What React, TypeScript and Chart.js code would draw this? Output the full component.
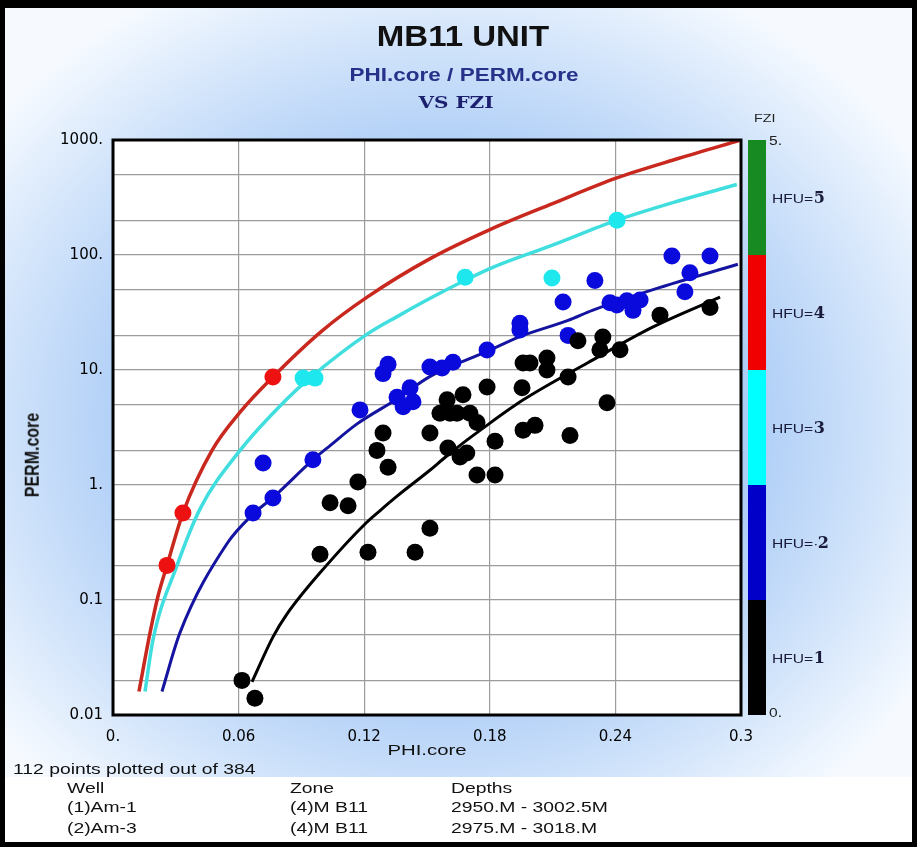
import React, { useEffect, useRef } from "react";
import { Chart, registerables } from "chart.js";

Chart.register(...registerables);

// ---- axis ticks ----
const xTickValues = [0, 0.06, 0.12, 0.18, 0.24, 0.3];
const xTickLabels = ["0.", "0.06", "0.12", "0.18", "0.24", "0.3"];
const yGridValues = [0.01, 0.02, 0.05, 0.1, 0.2, 0.5, 1, 2, 5, 10, 20, 50, 100, 200, 500, 1000];
const yLabelValues = [0.01, 0.1, 1, 10, 100, 1000];
const yLabelTexts = ["0.01", "0.1", "1.", "10.", "100.", "1000."];

// ---- FZI / HFU legend (bottom to top) ----
const hfuPrefixes = ["HFU= ", "HFU=\u00b7", "HFU= ", "HFU=", "HFU= "];
const hfuDigits = ["1", "2", "3", "4", "5"];
const hfuColors = ["#000000", "#0000c8", "#00ffff", "#f00000", "#178a22"];

// ---- HFU boundary curves (PHI.core, PERM.core) ----
const redCurvePhi = [0.0124, 0.0177, 0.0216, 0.0258, 0.0334, 0.0473, 0.0607, 0.0764, 0.1, 0.1214, 0.1515, 0.1806, 0.21, 0.241, 0.27, 0.3];
const redCurvePerm = [0.016, 0.052, 0.11, 0.2, 0.57, 2.0, 4.3, 8.7, 22, 43, 93, 168, 280, 470, 690, 1000];

const cyanCurvePhi = [0.0153, 0.0191, 0.0306, 0.0416, 0.0607, 0.0831, 0.094, 0.1214, 0.137, 0.1515, 0.168, 0.1806, 0.21, 0.2408, 0.27, 0.298];
const cyanCurvePerm = [0.016, 0.045, 0.2, 0.62, 2.0, 5.6, 8.5, 20.5, 30, 42, 60, 77, 122, 201, 295, 410];

const blueCurvePhi = [0.0234, 0.032, 0.0545, 0.067, 0.0765, 0.0956, 0.1037, 0.1166, 0.1357, 0.1515, 0.1787, 0.1944, 0.2174, 0.229, 0.261, 0.2985];
const blueCurvePerm = [0.016, 0.052, 0.31, 0.56, 0.78, 1.66, 2.2, 3.4, 5.6, 8.8, 14.5, 19.5, 27, 33, 52, 83];

const blackCurvePhi = [0.0664, 0.0765, 0.083, 0.102, 0.121, 0.1276, 0.1357, 0.1515, 0.158, 0.167, 0.1755, 0.196, 0.2266, 0.258, 0.29];
const blackCurvePerm = [0.0194, 0.048, 0.075, 0.2, 0.47, 0.6, 0.8, 1.35, 1.7, 2.3, 3.0, 5.5, 11.5, 23.7, 43];

// ---- core samples ----
const redPointsPhi = [0.0258, 0.0334, 0.0764];
const redPointsPerm = [0.2, 0.57, 8.7];

const cyanPointsPhi = [0.0908, 0.0965, 0.1682, 0.2097, 0.2408];
const cyanPointsPerm = [8.5, 8.5, 64, 63, 201];

const bluePointsPhi = [0.0669, 0.0764, 0.0717, 0.0955, 0.118, 0.129, 0.1314, 0.1386, 0.1357, 0.1419, 0.1433, 0.1514, 0.1572, 0.1624, 0.1787, 0.1944, 0.1944, 0.215, 0.2174, 0.2302, 0.2374, 0.2407, 0.2455, 0.2484, 0.2518, 0.267, 0.2732, 0.2756, 0.2852];
const bluePointsPerm = [0.57, 0.77, 1.55, 1.66, 4.5, 9.3, 11.2, 4.8, 5.8, 7.0, 5.3, 10.6, 10.4, 11.7, 14.9, 25.5, 22.3, 39, 20, 60, 38.5, 36.7, 40, 33, 40.6, 98, 48, 70, 98];

const blackPointsPhi = [0.0616, 0.0678, 0.0989, 0.1218, 0.1443, 0.1037, 0.1123, 0.117, 0.1261, 0.1314, 0.129, 0.1514, 0.1514, 0.236, 0.1739, 0.1825, 0.1825, 0.1959, 0.2016, 0.2183, 0.161, 0.1705, 0.1739, 0.16, 0.169, 0.1787, 0.1596, 0.1672, 0.1562, 0.1643, 0.1658, 0.1959, 0.1954, 0.2221, 0.234, 0.2326, 0.2422, 0.2613, 0.2852, 0.1992, 0.2073, 0.2073, 0.2174];
const blackPointsPerm = [0.02, 0.014, 0.25, 0.26, 0.26, 0.7, 0.66, 1.06, 2.0, 1.43, 2.83, 0.42, 2.83, 5.2, 1.22, 1.22, 2.4, 3.0, 3.3, 2.7, 4.2, 4.2, 3.5, 2.1, 1.9, 7.1, 5.5, 6.1, 4.2, 4.2, 1.75, 11.5, 7.0, 18, 19.4, 15, 15, 30, 35, 11.5, 12.7, 10, 8.7];

// ---- footer table ----
const wellNames = ["(1)Am-1", "(2)Am-3"];
const zoneNames = ["(4)M B11", "(4)M B11"];
const depthRanges = ["2950.M - 3002.5M", "2975.M - 3018.M"];

const toPts = (xs: number[], ys: number[]) => xs.map((x, i) => ({ x, y: ys[i] }));

const lineDs = (xs: number[], ys: number[], color: string, width: number, order: number) => ({
  data: toPts(xs, ys),
  showLine: true,
  borderColor: color,
  backgroundColor: color,
  borderWidth: width,
  pointRadius: 0,
  pointHoverRadius: 0,
  fill: false,
  cubicInterpolationMode: "monotone" as const,
  order,
});

const pointDs = (xs: number[], ys: number[], color: string, order: number) => ({
  data: toPts(xs, ys),
  showLine: false,
  borderColor: color,
  backgroundColor: color,
  borderWidth: 0,
  pointRadius: 8.5,
  pointHoverRadius: 8.5,
  order,
});

const sans = "'Liberation Sans', Arial, sans-serif";
const serifBold = "'DejaVu Serif', 'Liberation Serif', serif";

export default function App() {
  const ref = useRef<HTMLCanvasElement>(null);

  useEffect(() => {
    const canvas = ref.current!;
    const framePlugin = {
      id: "frameAndBar",
      beforeDraw(chart: any) {
        const { ctx, chartArea: a } = chart;
        ctx.save();
        ctx.fillStyle = "#ffffff";
        ctx.fillRect(a.left, a.top, a.right - a.left, a.bottom - a.top);
        ctx.restore();
      },
      afterDraw(chart: any) {
        const { ctx, chartArea: a } = chart;
        ctx.save();
        const segH = (a.bottom - a.top) / hfuColors.length;
        hfuColors.forEach((c, i) => {
          ctx.fillStyle = c;
          ctx.fillRect(a.right + 7, a.bottom - (i + 1) * segH, 18, segH);
        });
        ctx.strokeStyle = "#000";
        ctx.lineWidth = 3;
        ctx.strokeRect(a.left, a.top, a.right - a.left, a.bottom - a.top);
        ctx.restore();
      },
    };

    const chart = new Chart(canvas, {
      type: "scatter",
      data: {
        datasets: [
          lineDs(redCurvePhi, redCurvePerm, "#c8281e", 3.5, 10),
          lineDs(cyanCurvePhi, cyanCurvePerm, "#40dede", 3.5, 9),
          lineDs(blueCurvePhi, blueCurvePerm, "#1414a0", 3, 8),
          lineDs(blackCurvePhi, blackCurvePerm, "#000000", 3, 7),
          pointDs(redPointsPhi, redPointsPerm, "#ee1111", 4),
          pointDs(cyanPointsPhi, cyanPointsPerm, "#1ee8ee", 3),
          pointDs(bluePointsPhi, bluePointsPerm, "#0a0adc", 2),
          pointDs(blackPointsPhi, blackPointsPerm, "#000000", 1),
        ] as any,
      },
      options: {
        responsive: false,
        animation: false,
        devicePixelRatio: 1,
        layout: { padding: { left: 0, right: 176, top: 140, bottom: 92 } },
        plugins: { legend: { display: false }, tooltip: { enabled: false }, title: { display: false } },
        scales: {
          x: {
            type: "linear",
            min: 0,
            max: 0.3,
            afterBuildTicks: (s: any) => {
              s.ticks = xTickValues.map((value) => ({ value }));
            },
            afterFit: (s: any) => {
              s.height = 40;
            },
            ticks: {
              autoSkip: false,
              maxRotation: 0,
              padding: 13,
              color: "#000",
              font: { family: "'DejaVu Sans', sans-serif", size: 15 },
              callback: (_v: any, i: number) => xTickLabels[i],
            },
            grid: { color: "#9c9c9c", lineWidth: 1.2, drawTicks: false },
            border: { display: false },
          },
          y: {
            type: "logarithmic",
            min: 0.01,
            max: 1000,
            afterBuildTicks: (s: any) => {
              s.ticks = yGridValues.map((value) => ({ value }));
            },
            afterFit: (s: any) => {
              s.width = 113;
            },
            ticks: {
              autoSkip: false,
              padding: 10,
              color: "#000",
              font: { family: "'DejaVu Sans', sans-serif", size: 15 },
              callback: (v: any) => {
                const idx = yLabelValues.findIndex((t) => Math.abs(t - Number(v)) < t * 1e-6);
                return idx >= 0 ? yLabelTexts[idx] : "";
              },
            },
            grid: { color: "#9c9c9c", lineWidth: 1.2, drawTicks: false },
            border: { display: false },
          },
        },
      } as any,
      plugins: [framePlugin],
    });
    return () => chart.destroy();
  }, []);

  const bg =
    "radial-gradient(ellipse 62% 58% at 48% 50%, #78aaef 0%, #98c0f4 40%, #cde1fa 75%, #f6faff 100%)";

  const stretch = (sx: number, origin = "left center") => ({
    transform: `scaleX(${sx})`,
    transformOrigin: origin,
  });

  const footText = (left: number, top: number, text: string, key?: string) => (
    <div
      key={key}
      style={{
        position: "absolute", left, top, font: `14px ${sans}`, lineHeight: "16px", color: "#111",
        whiteSpace: "nowrap", ...stretch(1.38),
      }}
    >
      {text}
    </div>
  );

  return (
    <div
      style={{
        position: "absolute",
        left: 0,
        top: 0,
        width: 917,
        height: 847,
        overflow: "hidden",
        background: bg,
      }}
    >
      <div style={{ position: "absolute", left: 0, top: 777, width: 917, height: 70, background: "#ffffff" }} />
      <canvas
        ref={ref}
        width={917}
        height={847}
        style={{ position: "absolute", left: 0, top: 0, width: 917, height: 847 }}
      />

      {/* titles */}
      <div
        style={{
          position: "absolute", left: 0, width: 926, top: 21, textAlign: "center",
          font: `bold 30px ${sans}`, lineHeight: "30px", color: "#111", whiteSpace: "nowrap",
          ...stretch(1.1, "center center"),
        }}
      >
        MB11 UNIT
      </div>
      <div
        style={{
          position: "absolute", left: 0, width: 928, top: 66, textAlign: "center",
          font: `bold 18px ${sans}`, lineHeight: "18px", color: "#27318a", whiteSpace: "nowrap",
          ...stretch(1.25, "center center"),
        }}
      >
        PHI.core / PERM.core
      </div>
      <div
        style={{
          position: "absolute", left: 0, width: 912, top: 95, textAlign: "center",
          font: `bold 16px ${serifBold}`, lineHeight: "16px", color: "#1c1f6e", whiteSpace: "nowrap",
          ...stretch(1.25, "center center"),
        }}
      >
        VS FZI
      </div>

      {/* axis titles */}
      <div
        style={{
          position: "absolute", left: 32, top: 455, whiteSpace: "nowrap",
          font: `bold 16px ${sans}`, lineHeight: "16px", color: "#111",
          transform: "translate(-50%, -50%) rotate(-90deg) scaleY(1.25)",
        }}
      >
        PERM.core
      </div>
      <div
        style={{
          position: "absolute", left: 0, width: 854, top: 742, textAlign: "center", whiteSpace: "nowrap",
          font: `14px ${sans}`, lineHeight: "16px", color: "#111",
          ...stretch(1.45, "center center"),
        }}
      >
        PHI.core
      </div>

      {/* colour bar labels */}
      <div style={{ position: "absolute", left: 754, top: 112, font: `11px ${sans}`, color: "#222", ...stretch(1.3) }}>FZI</div>
      <div style={{ position: "absolute", left: 769, top: 134, font: `12px ${sans}`, color: "#222", ...stretch(1.3) }}>5.</div>
      <div style={{ position: "absolute", left: 769, top: 706, font: `12px ${sans}`, color: "#222", ...stretch(1.3) }}>0.</div>
      {hfuDigits.map((d, i) => (
        <div
          key={d}
          style={{
            position: "absolute", left: 772, top: 140 + (4 - i) * 115 + 57.5 - 12, height: 24, lineHeight: "24px",
            whiteSpace: "nowrap", color: "#1a1a3a",
          }}
        >
          <span style={{ font: `12px ${sans}`, display: "inline-block", ...stretch(1.3) }}>{hfuPrefixes[i]}</span>
          <span style={{ font: `bold 16px ${serifBold}`, marginLeft: 10 }}>{d}</span>
        </div>
      ))}

      {/* footer */}
      {footText(13, 761, "112 points plotted out of 384")}
      {footText(67, 780, "Well")}
      {footText(290, 780, "Zone")}
      {footText(451, 780, "Depths")}
      {wellNames.map((w, i) => (
        <React.Fragment key={w}>
          {footText(67, 799 + i * 21, w)}
          {footText(290, 799 + i * 21, zoneNames[i])}
          {footText(451, 799 + i * 21, depthRanges[i])}
        </React.Fragment>
      ))}

      {/* outer black border */}
      <div
        style={{
          position: "absolute", left: 0, top: 0, width: 917, height: 847, boxSizing: "border-box",
          borderStyle: "solid", borderColor: "#000", borderWidth: "8px 5px 5px 5px", pointerEvents: "none",
        }}
      />
    </div>
  );
}
